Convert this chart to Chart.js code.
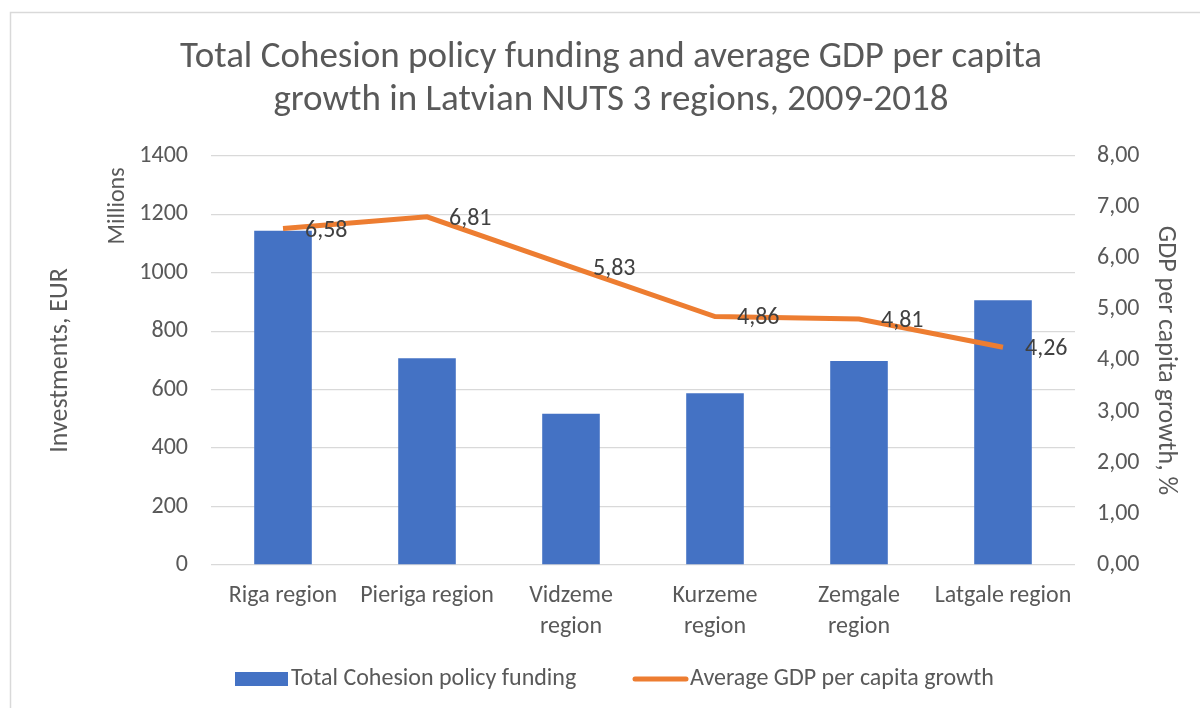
<!DOCTYPE html>
<html>
<head>
<meta charset="utf-8">
<script src="https://cdn.jsdelivr.net/npm/chart.js@4/dist/chart.umd.min.js"></script>
<style>
  html, body { margin: 0; padding: 0; background: #fff; }
  canvas { display: block; }
</style>
</head>
<body>
<canvas id="chart" width="1200" height="708"></canvas>
<script>
const FONT = "Carlito, Lato, sans-serif";

const regions = [
  "Riga region",
  "Pieriga region",
  ["Vidzeme", "region"],
  ["Kurzeme", "region"],
  ["Zemgale", "region"],
  "Latgale region"
];
const funding = [1144, 708, 518, 588, 698, 906];
const gdpGrowth = [6.58, 6.81, 5.83, 4.86, 4.81, 4.26];

const textGrey = "#595959";
const gridGrey = "#d9d9d9";
const barBlue = "#4472c4";
const lineOrange = "#ed7d31";

// frame, "Millions" unit label, value labels on the line and the legend
const extras = {
  id: "extras",
  beforeDraw(chart) {
    const c = chart.ctx;
    c.save();
    c.strokeStyle = gridGrey;
    c.lineWidth = 1.5;
    c.beginPath();
    c.moveTo(10.5, 708);
    c.lineTo(10.5, 12.5);
    c.lineTo(1200, 12.5);
    c.stroke();
    c.restore();
  },
  afterDraw(chart) {
    const c = chart.ctx;
    c.save();
    c.fillStyle = textGrey;
    c.font = "24px " + FONT;
    c.textAlign = "center";
    c.textBaseline = "middle";
    c.translate(118, 206);
    c.rotate(-Math.PI / 2);
    c.fillText("Millions", 0, 0);
    c.restore();

    const meta = chart.getDatasetMeta(1);
    c.save();
    c.fillStyle = "#404040";
    c.font = "24px " + FONT;
    c.textAlign = "left";
    c.textBaseline = "middle";
    meta.data.forEach((pt, i) => {
      c.fillText(gdpGrowth[i].toFixed(2).replace(".", ","), pt.x + 22, pt.y + 2);
    });
    c.restore();

    // legend
    const ds = chart.data.datasets;
    const ly = 679;
    c.save();
    c.font = "24px " + FONT;
    c.textAlign = "left";
    c.textBaseline = "middle";
    c.fillStyle = ds[0].backgroundColor;
    c.fillRect(235, ly - 7, 53, 14);
    c.fillStyle = textGrey;
    c.fillText(ds[0].label, 291, ly);
    c.strokeStyle = ds[1].borderColor;
    c.lineWidth = 5;
    c.lineCap = "round";
    c.beginPath();
    c.moveTo(635, ly);
    c.lineTo(686, ly);
    c.stroke();
    c.fillText(ds[1].label, 690, ly);
    c.restore();
  }
};

new Chart(document.getElementById("chart"), {
  data: {
    labels: regions,
    datasets: [
      {
        type: "bar",
        label: "Total Cohesion policy funding",
        data: funding,
        backgroundColor: barBlue,
        yAxisID: "y",
        categoryPercentage: 1,
        barPercentage: 0.4,
        order: 2
      },
      {
        type: "line",
        label: "Average GDP per capita growth",
        data: gdpGrowth,
        borderColor: lineOrange,
        backgroundColor: lineOrange,
        borderWidth: 5,
        pointRadius: 0,
        tension: 0,
        yAxisID: "y1",
        order: 1
      }
    ]
  },
  options: {
    responsive: false,
    animation: false,
    layout: { padding: { left: 22, right: 0, top: 0, bottom: 58 } },
    plugins: {
      title: {
        display: true,
        text: ["Total Cohesion policy funding and average GDP per capita", "growth in Latvian NUTS 3 regions, 2009-2018"],
        color: textGrey,
        font: { family: FONT, size: 37, weight: "normal", lineHeight: 1.16 },
        padding: { top: 36.5, bottom: 33.6 }
      },
      legend: { display: false },
      tooltip: { enabled: false }
    },
    scales: {
      x: {
        grid: { display: false, drawTicks: false },
        border: { display: false },
        ticks: {
          color: textGrey,
          font: { family: FONT, size: 24, lineHeight: 1.3 },
          padding: 15,
          maxRotation: 0,
          autoSkip: false
        },
        afterFit(scale) { scale.height = 85; }
      },
      y: {
        position: "left",
        min: 0,
        max: 1400,
        ticks: {
          stepSize: 200,
          color: textGrey,
          font: { family: FONT, size: 24 },
          padding: 23,
          callback: v => String(v)
        },
        grid: { color: gridGrey, lineWidth: 1.3, drawTicks: false },
        border: { display: false },
        title: {
          display: true,
          text: "Investments, EUR",
          color: textGrey,
          font: { family: FONT, size: 26, lineHeight: 1.2 },
          padding: { top: 22.4, bottom: 0 }
        },
        afterFit(scale) { scale.width = 189; }
      },
      y1: {
        position: "right",
        min: 0,
        max: 8,
        ticks: {
          stepSize: 1,
          color: textGrey,
          font: { family: FONT, size: 24 },
          padding: 22,
          callback: v => v.toFixed(2).replace(".", ",")
        },
        grid: { display: false, drawTicks: false },
        border: { display: false },
        title: {
          display: true,
          text: "GDP per capita growth, %",
          color: textGrey,
          font: { family: FONT, size: 26, lineHeight: 1.2 },
          padding: { top: 19.4, bottom: 0 }
        },
        afterFit(scale) { scale.width = 125; }
      }
    }
  },
  plugins: [extras]
});
</script>
</body>
</html>
